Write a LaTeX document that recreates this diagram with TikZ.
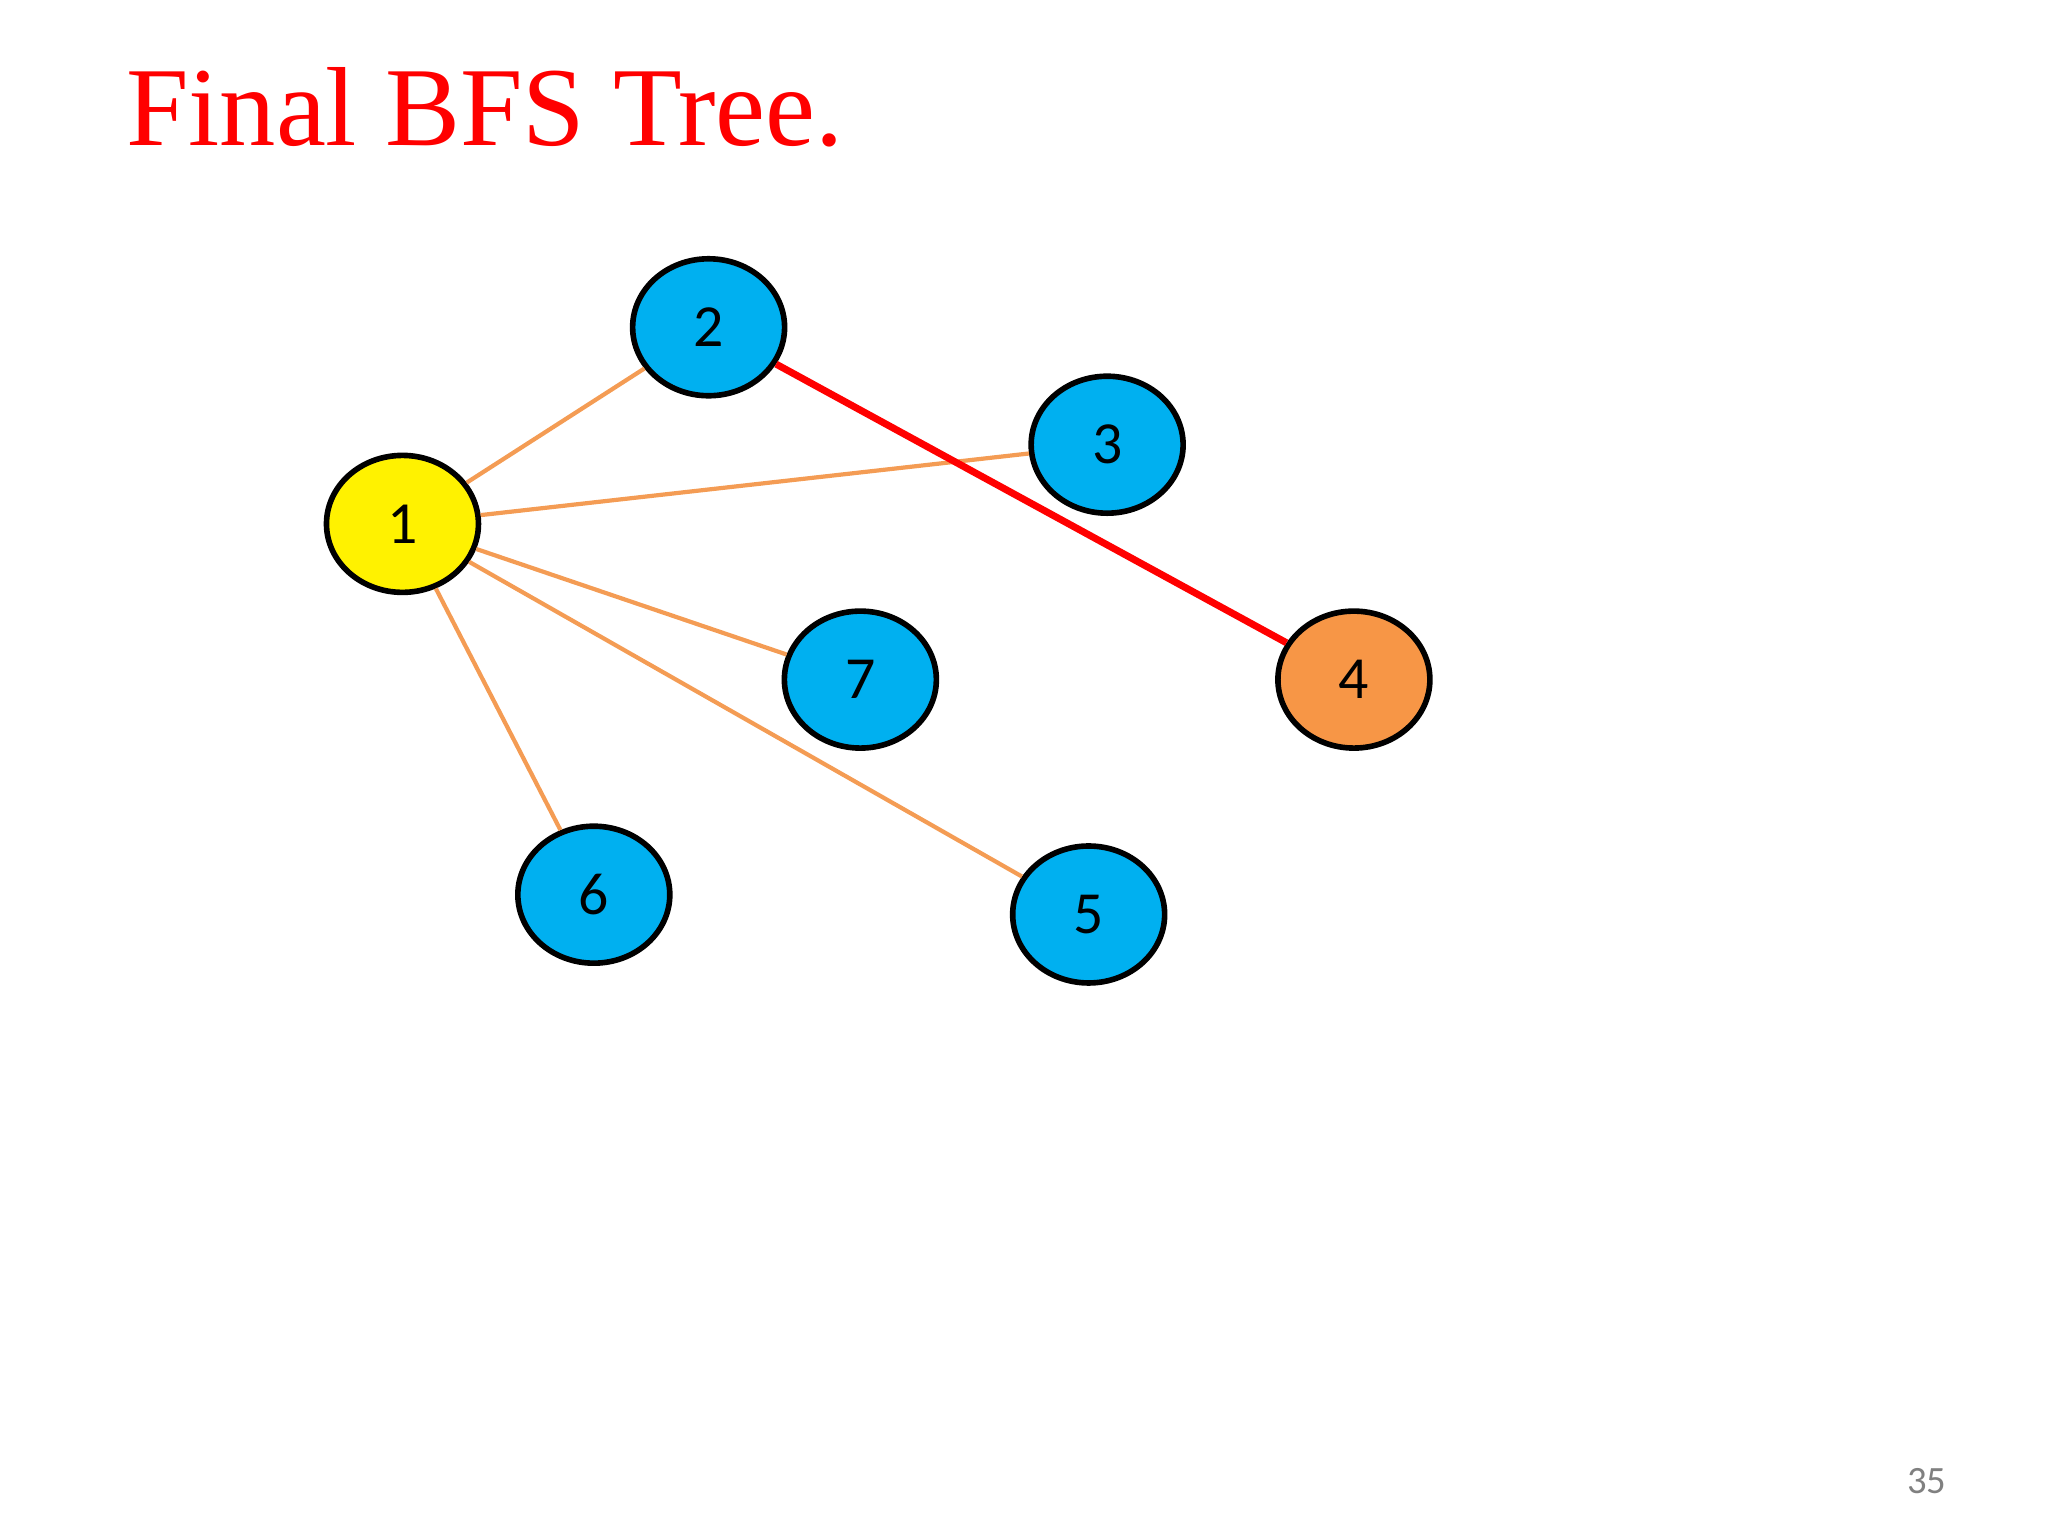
\documentclass[tikz,border=0pt]{standalone}
\usepackage{fontspec}
\setmainfont{Liberation Serif}
\newfontfamily\numfont{Carlito}
\definecolor{nblue}{RGB}{0,176,240}
\definecolor{norange}{RGB}{247,150,70}
\definecolor{eorange}{RGB}{244,156,84}
\tikzset{
  vtx/.style={ellipse,draw=black,line width=1.6pt,minimum width=1.52cm,minimum height=1.37cm,inner sep=0pt,font=\numfont\fontsize{17}{17}\selectfont},
  tedge/.style={draw=eorange,line width=1.2pt},
}
\usetikzlibrary{shapes.geometric}
\begin{document}
\begin{tikzpicture}[x=0.0132cm,y=-0.0132cm]
\useasboundingbox (0,0) rectangle (1552,1164);
\node[anchor=base west,text=red,font=\fontsize{32}{32}\selectfont,inner sep=0pt] (title) at (95,110) {Final BFS Tree.};
\node[vtx,fill=yellow] (n1) at (305,397) {1};
\node[vtx,fill=nblue] (n2) at (537,248) {2};
\node[vtx,fill=nblue] (n3) at (839,337) {3};
\node[vtx,fill=norange] (n4) at (1026,515) {4};
\node[vtx,fill=nblue] (n7) at (652,515) {7};
\node[vtx,fill=nblue] (n6) at (450,678) {6};
\node[vtx,fill=nblue] (n5) at (825,693) {5};
\begin{scope}[on background layer/.style={}]
\end{scope}
\draw[tedge] (n1) -- (n2);
\draw[tedge] (n1) -- (n3);
\draw[tedge] (n1) -- (n7);
\draw[tedge] (n1) -- (n6);
\draw[tedge] (n1) -- (n5);
\draw[red,line width=2pt] (n2) -- (n4);
\node[text=gray,font=\numfont\fontsize{11}{11}\selectfont] (pg) at (1460,1122) {35};
\end{tikzpicture}
\end{document}
